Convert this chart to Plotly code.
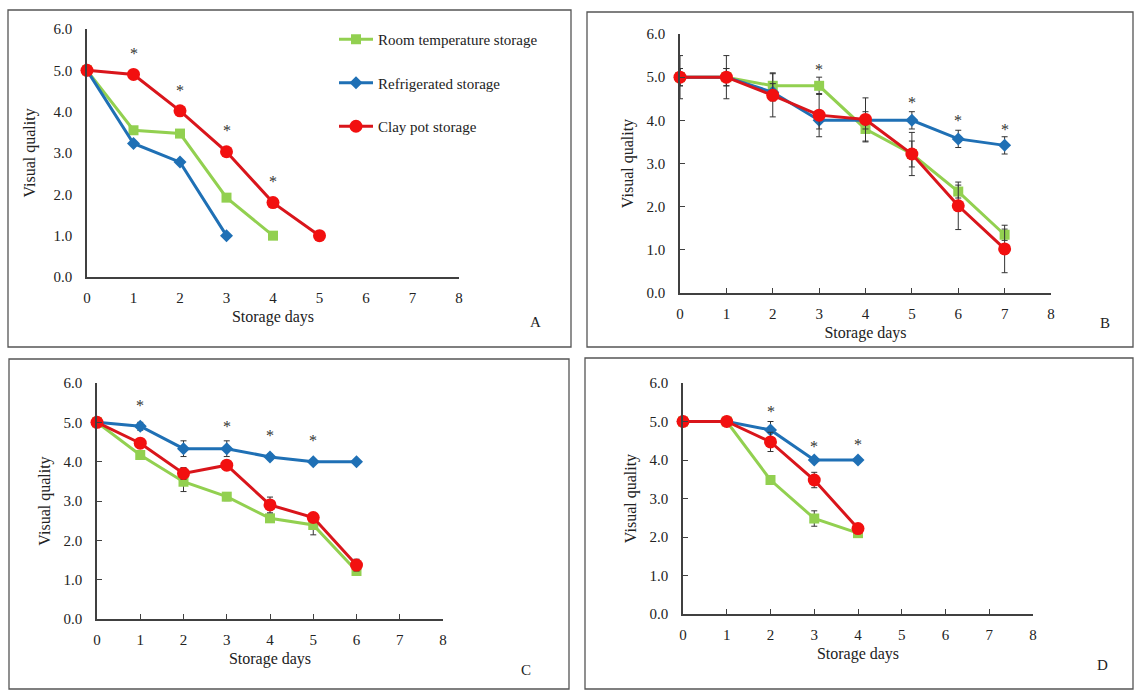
import plotly.graph_objects as go

W, H = 1134, 690
FONT = "Liberation Serif"
GREEN = "#92D050"
BLUE = "#1F70B5"
RED_LINE = "#D9151B"
RED_MK = "#F21010"
AX = "#404040"

NAMES = ["Room temperature storage", "Refrigerated storage", "Clay pot storage"]

# ---------------- data ----------------
# Panel A
A_room_days = [0, 1, 2, 3, 4]
A_room = [5.0, 3.55, 3.47, 1.92, 1.0]
A_refr_days = [0, 1, 2, 3]
A_refr = [5.0, 3.23, 2.78, 1.0]
A_clay_days = [0, 1, 2, 3, 4, 5]
A_clay = [5.0, 4.9, 4.02, 3.03, 1.8, 1.0]
A_star_x = [1, 2, 3, 4]
A_star_y = [5.40, 4.52, 3.55, 2.32]

# Panel B
B_days = [0, 1, 2, 3, 4, 5, 6, 7]
B_room = [5.0, 5.0, 4.8, 4.8, 3.8, 3.22, 2.35, 1.35]
B_room_err = [0.2, 0.2, 0.3, 0.2, 0.3, 0.3, 0.15, 0.13]
B_refr = [5.0, 5.0, 4.65, 4.0, 4.0, 4.0, 3.57, 3.42]
B_refr_err = [0.2, 0.2, 0.2, 0.2, 0.2, 0.2, 0.2, 0.2]
B_clay = [5.0, 5.0, 4.58, 4.12, 4.02, 3.22, 2.02, 1.02]
B_clay_err = [0.5, 0.5, 0.5, 0.5, 0.5, 0.5, 0.55, 0.55]
B_star_x = [3, 5, 6, 7]
B_star_y = [5.18, 4.42, 4.0, 3.79]

# Panel C
C_days = [0, 1, 2, 3, 4, 5, 6]
C_room = [5.0, 4.17, 3.49, 3.11, 2.56, 2.39, 1.22]
C_room_err = [0.05, 0.1, 0.25, 0.1, 0.1, 0.25, 0.1]
C_refr = [5.0, 4.9, 4.33, 4.33, 4.12, 4.0, 4.0]
C_refr_err = [0.0, 0.1, 0.2, 0.2, 0.07, 0.0, 0.0]
C_clay = [5.0, 4.47, 3.7, 3.91, 2.9, 2.58, 1.37]
C_clay_err = [0.05, 0.1, 0.15, 0.1, 0.2, 0.08, 0.15]
C_star_x = [1, 3, 4, 5]
C_star_y = [5.43, 4.9, 4.67, 4.54]

# Panel D
D_days = [0, 1, 2, 3, 4]
D_room = [5.0, 5.0, 3.48, 2.48, 2.1]
D_room_err = [0.0, 0.0, 0.1, 0.2, 0.05]
D_refr = [5.0, 5.0, 4.78, 4.0, 4.0]
D_refr_err = [0.0, 0.0, 0.22, 0.0, 0.0]
D_clay = [5.0, 5.0, 4.47, 3.48, 2.22]
D_clay_err = [0.0, 0.0, 0.25, 0.2, 0.05]
D_star_x = [2, 3, 4]
D_star_y = [5.25, 4.34, 4.39]

x_ticks = [0, 1, 2, 3, 4, 5, 6, 7, 8]
y_ticks = [0, 1, 2, 3, 4, 5, 6]

# ---------------- layout geometry (pixels) ----------------
geo = {
    "A": (87, 459, 29, 277),
    "B": (680, 1051, 34, 293),
    "C": (97, 443, 383, 619),
    "D": (683, 1033, 383, 614),
}
boxes = {
    "A": (8, 10, 571, 347),
    "B": (587, 12, 1133, 347),
    "C": (9, 359, 569, 689),
    "D": (585, 358, 1133, 689),
}
letters = {"A": (535, 322), "B": (1105, 323), "C": (526, 670), "D": (1102, 665)}

fig = go.Figure()

panels = [
    ("A", "x", "y",
     [(A_room_days, A_room, None), (A_refr_days, A_refr, None), (A_clay_days, A_clay, None)],
     A_star_x, A_star_y),
    ("B", "x2", "y2",
     [(B_days, B_room, B_room_err), (B_days, B_refr, B_refr_err), (B_days, B_clay, B_clay_err)],
     B_star_x, B_star_y),
    ("C", "x3", "y3",
     [(C_days, C_room, C_room_err), (C_days, C_refr, C_refr_err), (C_days, C_clay, C_clay_err)],
     C_star_x, C_star_y),
    ("D", "x4", "y4",
     [(D_days, D_room, D_room_err), (D_days, D_refr, D_refr_err), (D_days, D_clay, D_clay_err)],
     D_star_x, D_star_y),
]

styles = [
    dict(line=dict(color=GREEN, width=3), marker=dict(symbol="square", size=10, color=GREEN)),
    dict(line=dict(color=BLUE, width=3), marker=dict(symbol="diamond", size=10, color=BLUE)),
    dict(line=dict(color=RED_LINE, width=3), marker=dict(symbol="circle", size=13, color=RED_MK)),
]

annotations = []
for key, xa, ya, series, sx, sy in panels:
    for i, (xs, ys, err) in enumerate(series):
        kw = dict(
            x=xs, y=ys, xaxis=xa, yaxis=ya, mode="lines+markers",
            name=NAMES[i], legendgroup=NAMES[i] + key,
            showlegend=(key == "A"), cliponaxis=False,
            **styles[i],
        )
        if err is not None:
            kw["error_y"] = dict(type="data", array=err, visible=True,
                                 color="#333333", thickness=1, width=3)
        fig.add_trace(go.Scatter(**kw))
    for x, y in zip(sx, sy):
        annotations.append(dict(x=x, y=y, xref=xa, yref=ya, text="*", showarrow=False,
                                xanchor="center", yanchor="middle",
                                font=dict(family=FONT, size=16, color="#333333")))
    lx, ly = letters[key]
    annotations.append(dict(x=lx / W, y=1 - ly / H, xref="paper", yref="paper",
                            text=key, showarrow=False, xanchor="center", yanchor="middle",
                            font=dict(family=FONT, size=15, color="#222222")))

shapes = []
for key, (x0, y0, x1, y1) in boxes.items():
    shapes.append(dict(type="rect", xref="paper", yref="paper",
                       x0=x0 / W, x1=x1 / W, y0=1 - y1 / H, y1=1 - y0 / H,
                       line=dict(color="#555555", width=1.3), fillcolor="rgba(0,0,0,0)"))

layout = dict(
    width=W, height=H, margin=dict(l=0, r=0, t=0, b=0, autoexpand=False),
    paper_bgcolor="white", plot_bgcolor="white",
    font=dict(family=FONT, size=15, color="#222222"),
    showlegend=True,
    legend=dict(x=334 / W, y=1 - 23 / H, xanchor="left", yanchor="top",
                font=dict(family=FONT, size=15, color="#222222"),
                bgcolor="rgba(0,0,0,0)", tracegroupgap=21, itemwidth=34),
    annotations=annotations, shapes=shapes,
)

axis_ids = [("A", "xaxis", "yaxis", "x", "y"), ("B", "xaxis2", "yaxis2", "x2", "y2"),
            ("C", "xaxis3", "yaxis3", "x3", "y3"), ("D", "xaxis4", "yaxis4", "x4", "y4")]
for key, xk, yk, xs, ys in axis_ids:
    l, r, t, b = geo[key]
    ticks = "" if key == "A" else "inside"
    layout[xk] = dict(
        domain=[l / W, r / W], anchor=ys, range=[0, 8], tickvals=x_ticks,
        showline=True, linecolor=AX, linewidth=1.5, showgrid=False, zeroline=False,
        ticks=ticks, ticklen=5, tickcolor=AX, tickfont=dict(family=FONT, size=15),
        ticklabelstandoff=6, automargin=False,
        title=dict(text="Storage days", font=dict(family=FONT, size=16), standoff=6),
    )
    layout[yk] = dict(
        domain=[1 - b / H, 1 - t / H], anchor=xs, range=[0, 6], tickvals=y_ticks,
        tickformat=".1f",
        showline=True, linecolor=AX, linewidth=1.5, showgrid=False, zeroline=False,
        ticks=ticks, ticklen=5, tickcolor=AX, tickfont=dict(family=FONT, size=15),
        ticklabelstandoff=10, automargin=False,
        title=dict(text="Visual quality", font=dict(family=FONT, size=16),
                   standoff=14 if key == "A" else 9),
    )

fig.update_layout(**layout)
fig.write_html("out.html",
               config={"displayModeBar": False},
               post_script="document.body.style.margin='0';document.body.style.overflow='hidden';")
